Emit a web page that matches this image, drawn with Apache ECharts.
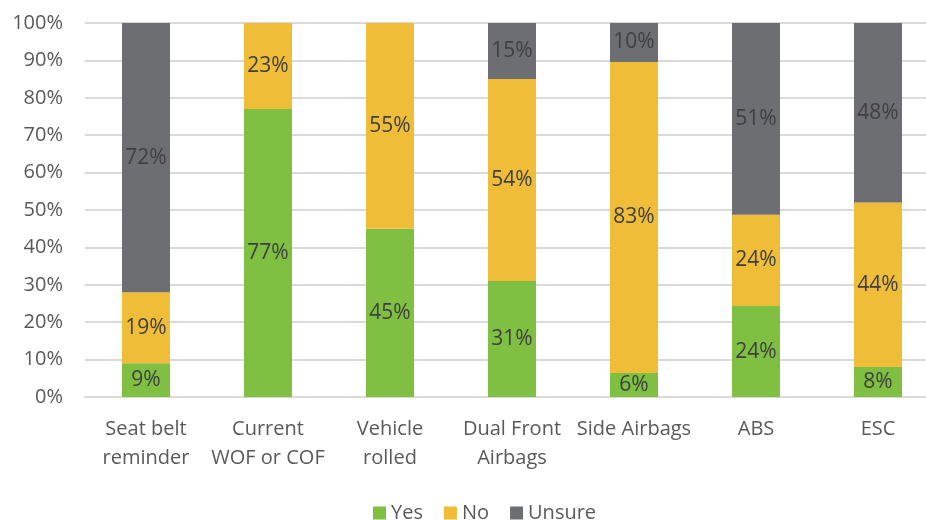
<!DOCTYPE html>
<html>
<head>
<meta charset="utf-8">
<style>
  html, body { margin: 0; padding: 0; background: #fff; overflow: hidden; }
  #main { width: 939px; height: 520px; }
</style>
<script src="https://cdn.jsdelivr.net/npm/echarts@6/dist/echarts.min.js"></script>
</head>
<body>
<div id="main"></div>
<script>
  // 数据
  var categories = ['Seat belt\nreminder', 'Current\nWOF or COF', 'Vehicle\nrolled', 'Dual Front\nAirbags', 'Side Airbags', 'ABS', 'ESC'];
  var yesValues = [9, 77, 45, 31, 6.4, 24.3, 8];
  var noValues = [19, 23, 55, 54, 83.2, 24.4, 44];
  var unsureValues = [72, 0, 0, 15, 10.4, 51.3, 48];
  var yTicks = [0, 10, 20, 30, 40, 50, 60, 70, 80, 90, 100];

  var font = '"Open Sans", sans-serif';
  var labelStyle = {
    show: true,
    position: 'inside',
    color: '#404040',
    fontFamily: font,
    fontSize: 21,
    formatter: function (p) {
      return p.value > 0 ? Math.round(p.value) + '%' : '';
    }
  };

  function makeSeries(name, data, color) {
    return {
      name: name,
      type: 'bar',
      stack: 'total',
      barWidth: 48,
      data: data,
      itemStyle: { color: color },
      label: labelStyle,
      emphasis: { disabled: true }
    };
  }

  // 图表比窗口略宽，右侧被裁掉
  var myChart = echarts.init(document.getElementById('main'));
  myChart.setOption({
    animation: false,
    grid: { left: 85, top: 23, right: 0, height: 374, containLabel: false },
    legend: {
      top: 498,
      left: 368,
      itemWidth: 13,
      itemHeight: 13,
      itemGap: 21,
      icon: 'rect',
      textStyle: { color: '#595959', fontFamily: font, fontSize: 20, padding: [0, 0, 0, 0] },
      data: ['Yes', 'No', 'Unsure']
    },
    xAxis: {
      type: 'category',
      data: categories,
      axisLine: { lineStyle: { color: '#d9d9d9', width: 2 } },
      axisTick: { show: false },
      axisLabel: {
        interval: 0,
        margin: 18,
        color: '#595959',
        fontFamily: font,
        fontSize: 20,
        lineHeight: 29
      }
    },
    yAxis: {
      type: 'value',
      min: yTicks[0],
      max: yTicks[yTicks.length - 1],
      interval: 10,
      axisLine: { show: false },
      axisTick: { show: false },
      splitLine: { lineStyle: { color: '#d9d9d9', width: 2 } },
      axisLabel: {
        margin: 22,
        color: '#595959',
        fontFamily: font,
        fontSize: 20,
        formatter: '{value}%'
      }
    },
    series: [
      makeSeries('Yes', yesValues, '#7fbf41'),
      makeSeries('No', noValues, '#efbd38'),
      makeSeries('Unsure', unsureValues, '#6d6e71')
    ]
  });
</script>
</body>
</html>
